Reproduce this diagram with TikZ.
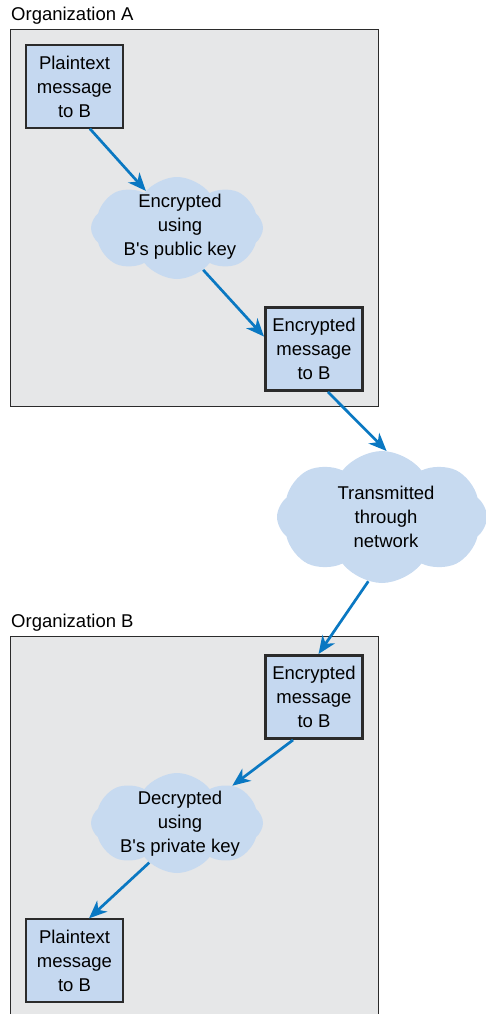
\documentclass[tikz,border=0pt]{standalone}
\usepackage{fontspec}
\setmainfont{Liberation Sans}
\usetikzlibrary{shapes.symbols,arrows.meta}
\definecolor{orgbg}{HTML}{E6E7E8}
\definecolor{msgfill}{HTML}{C5D8F0}
\definecolor{cloudfill}{HTML}{C7DAF0}
\definecolor{flow}{HTML}{0A78C2}
\definecolor{edge}{HTML}{2B2B2B}
\begin{document}
\begin{tikzpicture}[x=1pt,y=-1pt,
  txt/.style={font=\fontsize{18.5}{24}\selectfont},
  org/.style={draw=edge,line width=1pt,fill=orgbg},
  orglabel/.style={txt,anchor=base west,inner sep=0pt},
  msg/.style={txt,draw=edge,fill=msgfill,line width=1.3pt,minimum width=97pt,
    minimum height=83pt,inner sep=0pt,align=center},
  sealed/.style={msg,line width=3pt},
  puff/.style={cloud,cloud puffs=8,cloud puff arc=105,cloud ignores aspect,
    fill=cloudfill,draw=none,inner sep=0pt},
  cloudtext/.style={txt,align=center,inner sep=0pt},
  flowarrow/.style={draw=flow,line width=2.7pt,
    -{Stealth[length=18pt,width=15pt,inset=5.5pt]}}
]
\clip (0,0) rectangle (486,1014);
\useasboundingbox (0,0) rectangle (486,1014);

% Organization A
\node[orglabel] (labA) at (11,21) {Organization A};
\draw[org] (10.5,29.5) rectangle (378,406);
\node[msg] (plainA) at (74.5,86.5) {Plaintext\\message\\to B};
\node[puff,minimum width=172pt,minimum height=102pt] (enc) at (177,228) {};
\node[cloudtext] (encT) at (180,226.5) {Encrypted\\using\\B\textquotesingle s public key};
\node[sealed] (encA) at (314,349) {Encrypted\\message\\to B};

% Network
\node[puff,minimum width=210pt,minimum height=132pt] (net) at (382,517) {};
\node[cloudtext] (netT) at (386,516.5) {Transmitted\\through\\network};

% Organization B
\node[orglabel] (labB) at (11,627) {Organization B};
\draw[org] (10.5,636.5) rectangle (378,1030);
\node[sealed] (encB) at (314,697) {Encrypted\\message\\to B};
\node[puff,minimum width=172pt,minimum height=100pt] (dec) at (177,823) {};
\node[cloudtext] (decT) at (180,823.5) {Decrypted\\using\\B\textquotesingle s private key};
\node[msg] (plainB) at (74.5,960.5) {Plaintext\\message\\to B};

% Message flow
\draw[flowarrow] (plainA.-70) -- (enc.130);
\draw[flowarrow] (enc.-58) -- (encA.166);
\draw[flowarrow] (encA.-72) -- (net.86);
\draw[flowarrow] (net.-102) -- (encB.84);
\draw[flowarrow] (encB.-116) -- (dec.34);
\draw[flowarrow] (dec.-125) -- (plainB.71);
\end{tikzpicture}
\end{document}
